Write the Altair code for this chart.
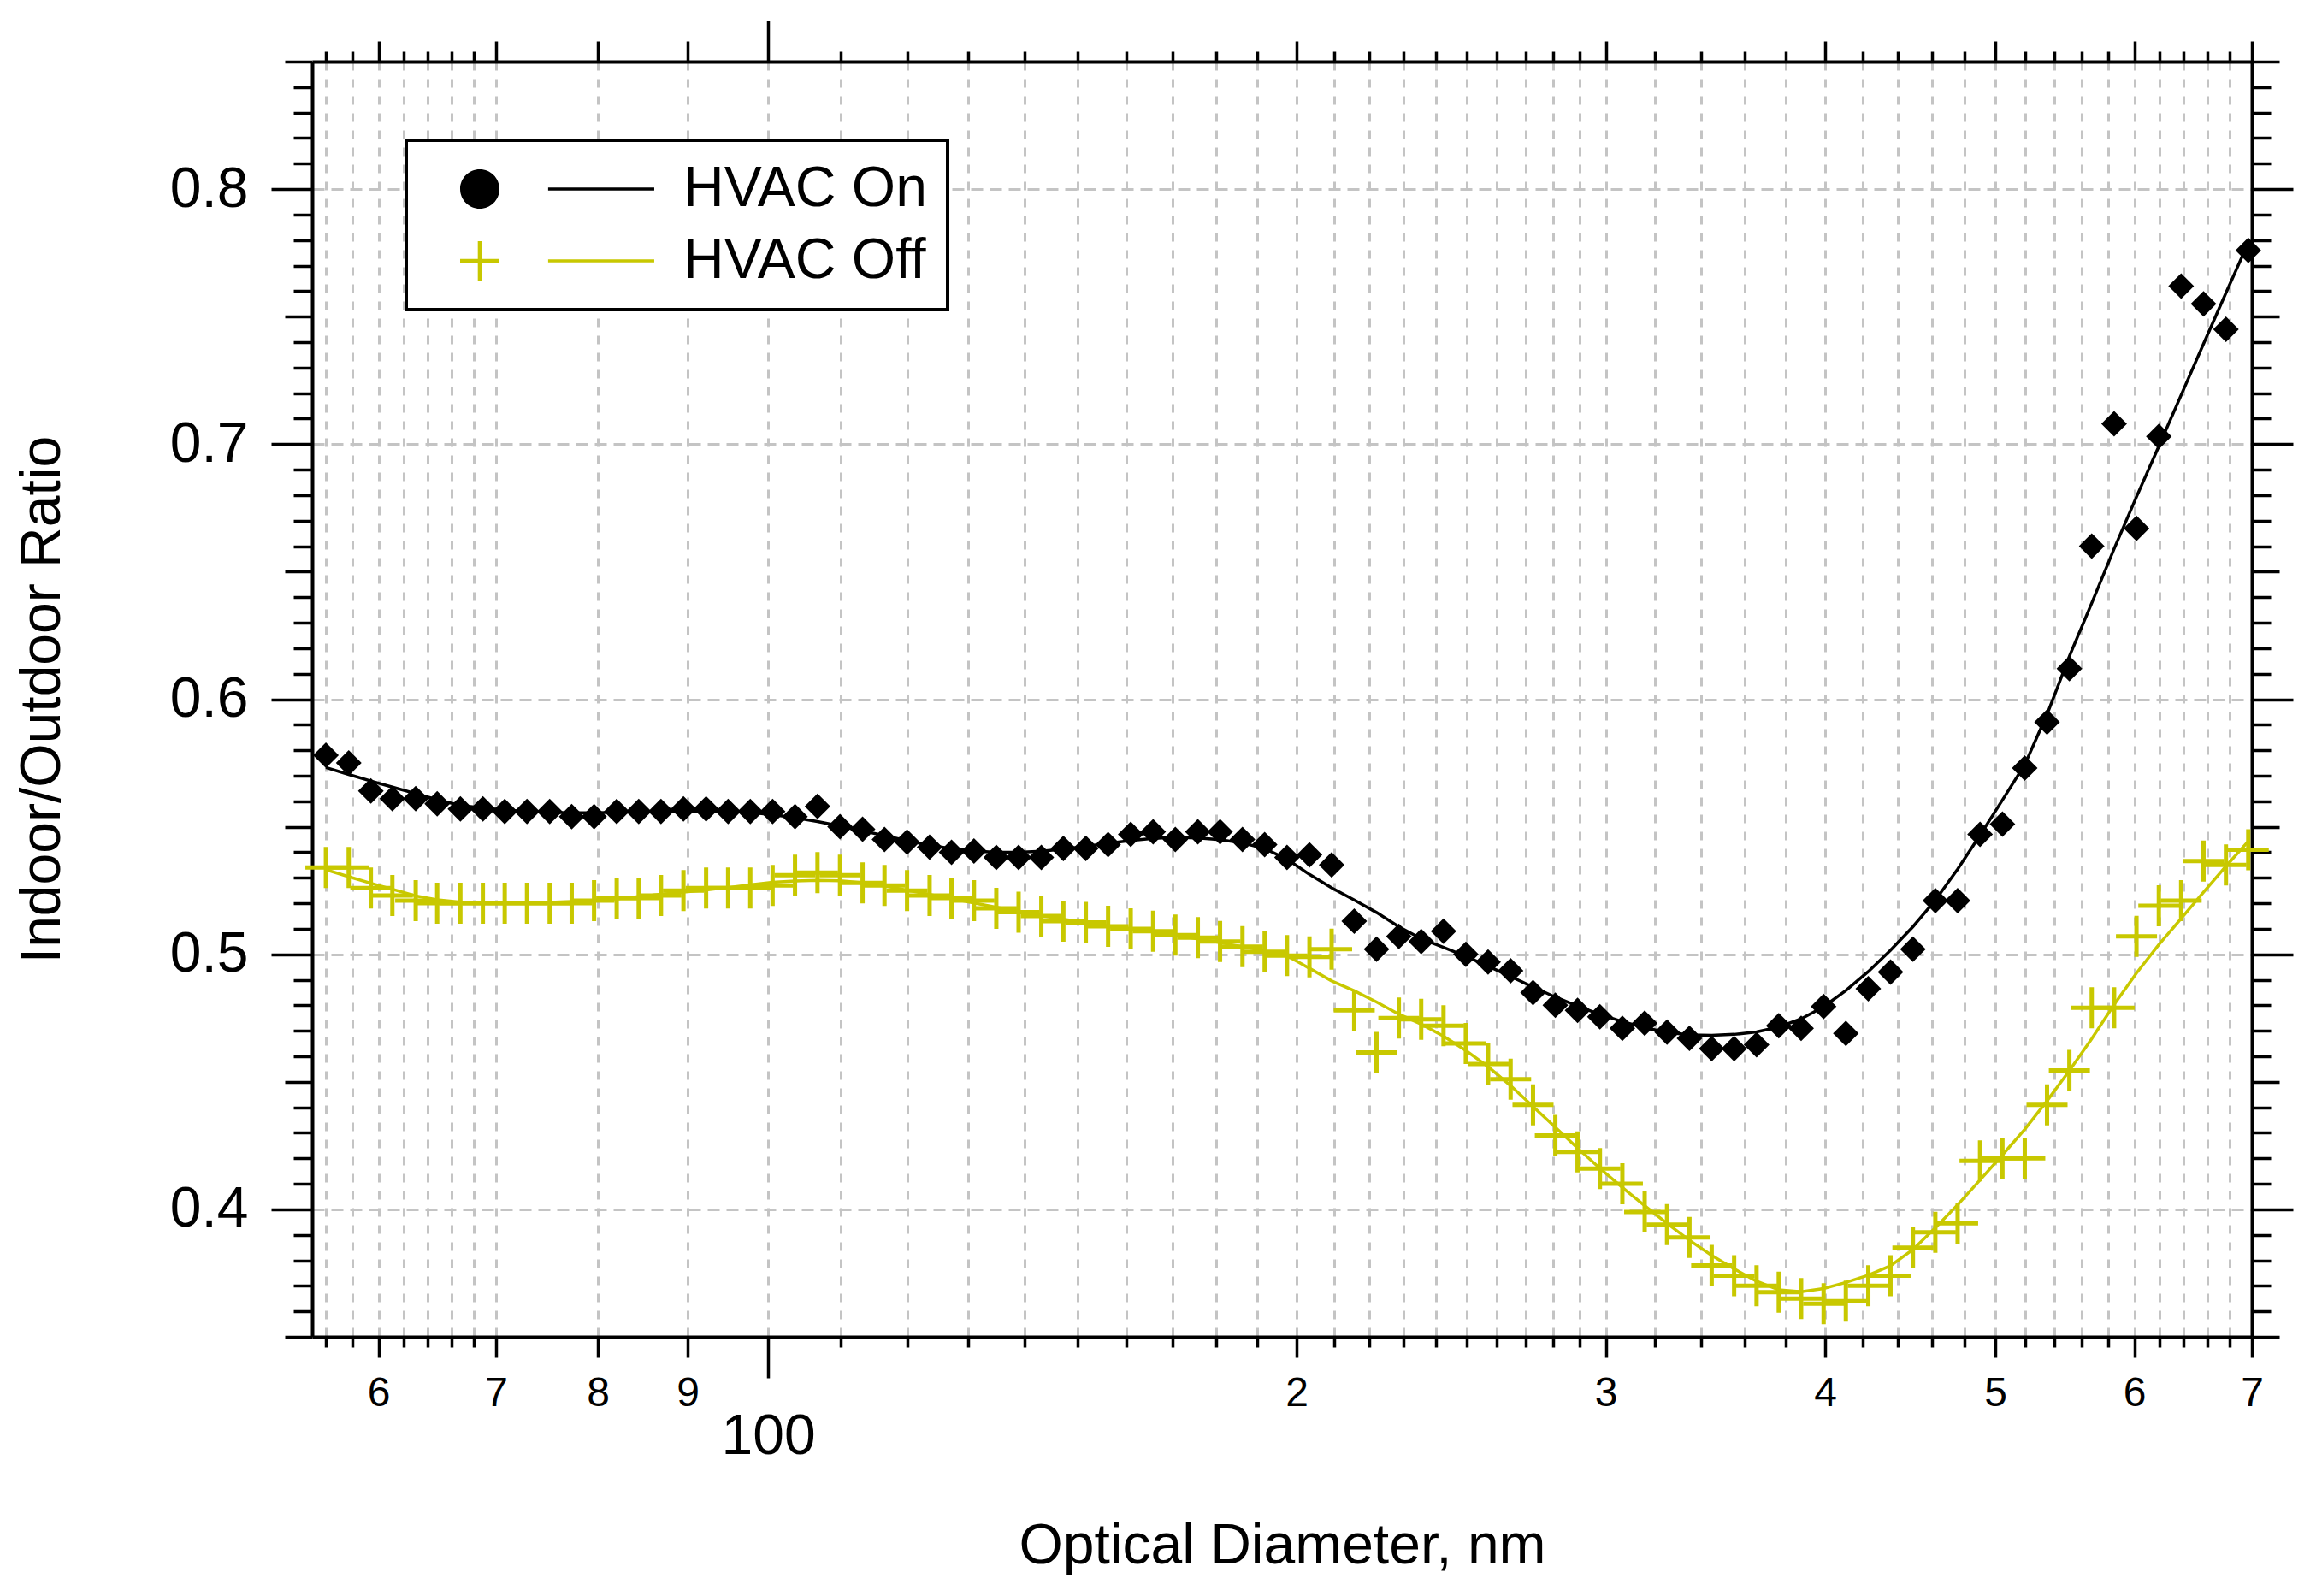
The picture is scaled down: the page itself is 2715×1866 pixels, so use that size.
import altair as alt
import pandas as pd

# ---------------- data ----------------
diameters = [56.0, 57.7, 59.4, 61.1, 63.0, 64.8, 66.8, 68.8, 70.8, 72.9,
             75.1, 77.3, 79.6, 82.0, 84.4, 86.9, 89.5, 92.2, 94.9, 97.7,
             100.6, 103.6, 106.7, 109.9, 113.2, 116.5, 120.0, 123.6, 127.2, 131.0,
             134.9, 138.9, 143.1, 147.3, 151.7, 156.2, 160.9, 165.7, 170.6, 175.7,
             180.9, 186.3, 191.8, 197.5, 203.4, 209.4, 215.7, 222.1, 228.7, 235.5,
             242.5, 249.7, 257.1, 264.8, 272.7, 280.8, 289.1, 297.7, 306.6, 315.7,
             325.1, 334.8, 344.7, 355.0, 365.6, 376.4, 387.6, 399.2, 411.0, 423.3,
             435.8, 448.8, 462.2, 475.9, 490.1, 504.7, 519.7, 535.1, 551.0, 567.4,
             584.3, 601.7, 619.6, 638.0, 657.0, 676.6, 696.7]

hvac_on = [0.578, 0.575, 0.564, 0.561, 0.561, 0.559, 0.557, 0.557, 0.556, 0.556,
           0.556, 0.554, 0.554, 0.556, 0.556, 0.556, 0.557, 0.557, 0.556, 0.556,
           0.556, 0.554, 0.558, 0.550, 0.549, 0.545, 0.544, 0.542, 0.540, 0.5405,
           0.538, 0.538, 0.538, 0.5415, 0.5415, 0.543, 0.547, 0.548, 0.545, 0.548,
           0.548, 0.545, 0.543, 0.538, 0.539, 0.535, 0.513, 0.502, 0.507, 0.505,
           0.509, 0.500, 0.497, 0.4935, 0.485, 0.480, 0.478, 0.4755, 0.471, 0.473,
           0.4695, 0.467, 0.463, 0.463, 0.4645, 0.472, 0.471, 0.4795, 0.469, 0.4865,
           0.493, 0.502, 0.521, 0.521, 0.547, 0.551, 0.573, 0.591, 0.612, 0.660,
           0.708, 0.667, 0.703, 0.762, 0.755, 0.745, 0.776]

hvac_off = [0.534, 0.534, 0.526, 0.523, 0.521, 0.520, 0.520, 0.520, 0.520, 0.520,
            0.520, 0.520, 0.521, 0.522, 0.522, 0.523, 0.525, 0.526, 0.526, 0.526,
            0.527, 0.531, 0.532, 0.531, 0.528, 0.527, 0.525, 0.523, 0.522, 0.521,
            0.518, 0.5165, 0.515, 0.513, 0.5125, 0.511, 0.510, 0.509, 0.5075, 0.5065,
            0.505, 0.503, 0.501, 0.4995, 0.499, 0.502, 0.478, 0.4615, 0.475, 0.4745,
            0.472, 0.465, 0.457, 0.451, 0.441, 0.429, 0.4225, 0.416, 0.410, 0.399,
            0.394, 0.389, 0.378, 0.374, 0.370, 0.3675, 0.365, 0.363, 0.364, 0.370,
            0.374, 0.385, 0.391, 0.3945, 0.419, 0.420, 0.420, 0.441, 0.4545, 0.479,
            0.479, 0.507, 0.519, 0.521, 0.5365, 0.535, 0.541]

series_names = ["HVAC On", "HVAC Off"]

x_ticks = [56, 58, 60, 62, 64, 66, 68, 70, 80, 90,
           100, 110, 120, 130, 140, 150, 160, 170, 180, 190,
           200, 210, 220, 230, 240, 250, 260, 270, 280, 290,
           300, 320, 340, 360, 380, 400, 420, 440, 460, 480,
           500, 520, 540, 560, 580, 600, 620, 640, 660, 680, 700]
y_ticks = [round(0.35 + 0.01 * i, 2) for i in range(51)]

df = pd.DataFrame({
    "d": diameters + diameters,
    "value": hvac_on + hvac_off,
    "series": [series_names[0]] * len(hvac_on) + [series_names[1]] * len(hvac_off),
})

# ---------------- style ----------------
FONT = "Liberation Sans"
BLACK = "#000000"
YELLOW = "#c8c800"
GRID = "#c4c4c4"

W, H = 2268, 1491

xscale = alt.Scale(type="log", domain=[55, 700], nice=False)
yscale = alt.Scale(domain=[0.35, 0.85], nice=False, zero=False)

is100 = "datum.value == 100"
major_x = "(datum.value < 100 && datum.value % 10 == 0) || (datum.value > 100 && datum.value % 100 == 0)"
x_tick_size = {"condition": [{"test": is100, "value": 48}, {"test": major_x, "value": 24}], "value": 12}

major_y = "abs(datum.value * 10 - round(datum.value * 10)) < 0.001"
mid_y = "abs(datum.value * 20 - round(datum.value * 20)) < 0.001"
y_tick_size = {"condition": [{"test": major_y, "value": 48}, {"test": mid_y, "value": 32}], "value": 22}

common_axis = dict(
    domainColor=BLACK, domainWidth=4, tickColor=BLACK, tickWidth=3.5,
    labelFont=FONT, labelColor=BLACK, titleFont=FONT, titleColor=BLACK,
    titleFontWeight="normal", labelOverlap=False, labelBound=False, labelFlush=False,
)

bottom_axis = alt.Axis(
    orient="bottom", values=x_ticks, tickSize=x_tick_size,
    labelExpr=("datum.value == 100 ? ['', '100'] : ((datum.value < 100 && datum.value % 10 == 0) || "
               "(datum.value > 100 && datum.value % 100 == 0) ? substring(toString(datum.value), 0, 1) : '')"),
    labelFontSize={"condition": {"test": is100, "value": 66}, "value": 48},
    labelLineHeight=18, labelBaseline="top", labelPadding=18,
    grid=True, gridColor=GRID, gridDash=[10, 10], gridWidth=3,
    title="Optical Diameter, nm", titleFontSize=66, titleX=W / 2, titleY=244,
    titleAlign="center", titleBaseline="middle", titleAnchor="middle",
    **common_axis,
)
top_axis = alt.Axis(
    orient="top", values=x_ticks, tickSize=x_tick_size, labels=False, grid=False,
    title=None, **common_axis,
)
left_axis = alt.Axis(
    orient="left", values=y_ticks, tickSize=y_tick_size,
    labelExpr=f"{major_y} ? format(datum.value, '.1f') : ''",
    labelFontSize=66, labelPadding=27,
    grid=True, gridColor=GRID, gridDash=[14, 8], gridWidth=3,
    gridOpacity={"condition": {"test": major_y, "value": 1}, "value": 0},
    title="Indoor/Outdoor Ratio", titleFontSize=66, titleX=-316, titleY=H / 2,
    titleAngle=270, titleAlign="center", titleBaseline="middle",
    **common_axis,
)
right_axis = alt.Axis(
    orient="right", values=y_ticks, tickSize=y_tick_size, labels=False, grid=False,
    title=None, **common_axis,
)

base = alt.Chart(df)

X_main = alt.X("d:Q", scale=xscale, axis=bottom_axis)
Y_main = alt.Y("value:Q", scale=yscale, axis=left_axis)
X_none = alt.X("d:Q", scale=xscale, axis=None)
Y_none = alt.Y("value:Q", scale=yscale, axis=None)


def fit_line(name, color, bw):
    return (
        base.transform_filter(alt.datum.series == name)
        .transform_calculate(logd="log(datum.d) / LN10")
        .transform_loess("logd", "value", bandwidth=bw)
        .transform_calculate(d="pow(10, datum.logd)")
        .mark_line(color=color, strokeWidth=3.5)
    )


line_on = fit_line("HVAC On", BLACK, 0.16).encode(x=X_main, y=Y_main)
line_off = fit_line("HVAC Off", YELLOW, 0.12).encode(x=X_none, y=Y_none)

plus_path = "M -1 0 L 1 0 M 0 -1 L 0 1"
pts_on = (
    base.transform_filter(alt.datum.series == "HVAC On")
    .mark_point(shape="diamond", filled=True, size=900, color=BLACK, opacity=1)
    .encode(x=X_none, y=Y_none)
)
pts_off = (
    base.transform_filter(alt.datum.series == "HVAC Off")
    .mark_point(shape=plus_path, filled=False, size=2304, color=YELLOW, strokeWidth=5, opacity=1)
    .encode(x=X_none, y=Y_none)
)

frame = (
    base.mark_point(opacity=0)
    .encode(x=alt.X("d:Q", scale=xscale, axis=top_axis),
            y=alt.Y("value:Q", scale=yscale, axis=right_axis))
)

# legend symbols: marker + line sample drawn as one custom symbol path
on_symbol = ("M 0.182 0 A 0.697 0.697 0 1 0 1.576 0 A 0.697 0.697 0 1 0 0.182 0 Z "
             "M 3.30 -0.055 L 7.06 -0.055 L 7.06 0.055 L 3.30 0.055 Z")
off_symbol = ("M 0.182 -0.07 L 1.576 -0.07 L 1.576 0.07 L 0.182 0.07 Z "
              "M 0.809 -0.697 L 0.949 -0.697 L 0.949 0.697 L 0.809 0.697 Z "
              "M 3.30 -0.055 L 7.06 -0.055 L 7.06 0.055 L 3.30 0.055 Z")

legend_def = alt.Legend(
    title=None, orient="none", legendX=110, legendY=92,
    symbolSize=66 * 66, symbolStrokeWidth=0, symbolOpacity=1,
    labelFont=FONT, labelFontSize=66, labelColor=BLACK, labelOffset=234, labelLimit=2000,
    rowPadding=18, padding=24, strokeColor=BLACK, fillColor="white",
)
legend_layer = (
    base.transform_filter("false")
    .mark_point(filled=True, opacity=1)
    .encode(
        x=X_none, y=Y_none,
        shape=alt.Shape("series:N", scale=alt.Scale(domain=series_names, range=[on_symbol, off_symbol]),
                        legend=legend_def),
        color=alt.Color("series:N", scale=alt.Scale(domain=series_names, range=[BLACK, YELLOW]),
                        legend=legend_def),
    )
)

chart = (
    alt.layer(line_on, line_off, pts_on, pts_off, frame, legend_layer)
    .resolve_axis(x="independent", y="independent")
    .properties(
        width=W, height=H,
        autosize=alt.AutoSizeParams(type="none"),
        padding={"left": 357, "top": 64, "right": 70, "bottom": 292},
        background="white",
    )
    .configure_view(stroke=None)
    .configure_legend(strokeWidth=4)
)

chart.save("out.html", embed_options={"renderer": "svg", "actions": False})
